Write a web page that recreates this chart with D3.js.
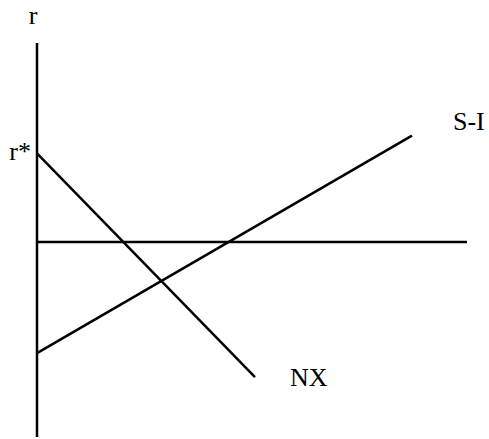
<!DOCTYPE html>
<html>
<head>
<meta charset="utf-8">
<script src="https://cdn.jsdelivr.net/npm/d3@7"></script>
<style>
  body { margin: 0; background: #fff; }
  text { font-family: 'Liberation Serif', 'DejaVu Serif', serif; fill: #000; }
</style>
</head>
<body>
<svg id="mainFrame"></svg>
<script>
const width = 489
const height = 439

// data (model units)
const axisLabel = 'r'
const worldRate = 4.95
const worldRateLabel = 'r*'
const nxLine = [{ q: 0, r: 7.2 }, { q: 5.07, r: 1.52 }]
const siLine = [{ q: 0, r: 2.13 }, { q: 8.72, r: 7.65 }]
const curveLabels = ['S-I', 'NX']
const xDomain = [0, 10]
const yDomain = [0, 10]

const svg = d3.select('#mainFrame')
    .attr('width', width)
    .attr('height', height)

const x = d3.scaleLinear().domain(xDomain).range([37, 467])
const y = d3.scaleLinear().domain(yDomain).range([437, 43])

const line = d3.line()
    .x(d => x(d.q))
    .y(d => y(d.r))

// vertical axis
svg.append('line')
    .attr('x1', x(0)).attr('x2', x(0))
    .attr('y1', y(yDomain[1])).attr('y2', y(yDomain[0]))
    .attr('stroke', '#000')
    .attr('stroke-width', 2.5)

// horizontal line at r
svg.append('line')
    .attr('x1', x(0)).attr('x2', x(xDomain[1]))
    .attr('y1', y(worldRate)).attr('y2', y(worldRate))
    .attr('stroke', '#000')
    .attr('stroke-width', 2.5)

// curves
svg.selectAll('path.curve')
    .data([siLine, nxLine])
    .join('path')
    .attr('class', 'curve')
    .attr('d', line)
    .attr('fill', 'none')
    .attr('stroke', '#000')
    .attr('stroke-width', 2.5)

// labels
svg.append('text')
    .attr('x', x(0) - 4)
    .attr('y', 24)
    .attr('text-anchor', 'middle')
    .attr('font-size', 26)
    .text(axisLabel)

svg.append('text')
    .attr('x', x(0) - 6)
    .attr('y', y(nxLine[0].r) + 7)
    .attr('text-anchor', 'end')
    .attr('font-size', 26)
    .text(worldRateLabel)

svg.append('text')
    .attr('x', x(siLine[1].q) + 41)
    .attr('y', y(siLine[1].r) - 6)
    .attr('font-size', 26)
    .text(curveLabels[0])

svg.append('text')
    .attr('x', x(nxLine[1].q) + 35)
    .attr('y', y(nxLine[1].r) + 9)
    .attr('font-size', 26)
    .text(curveLabels[1])
</script>
</body>
</html>
